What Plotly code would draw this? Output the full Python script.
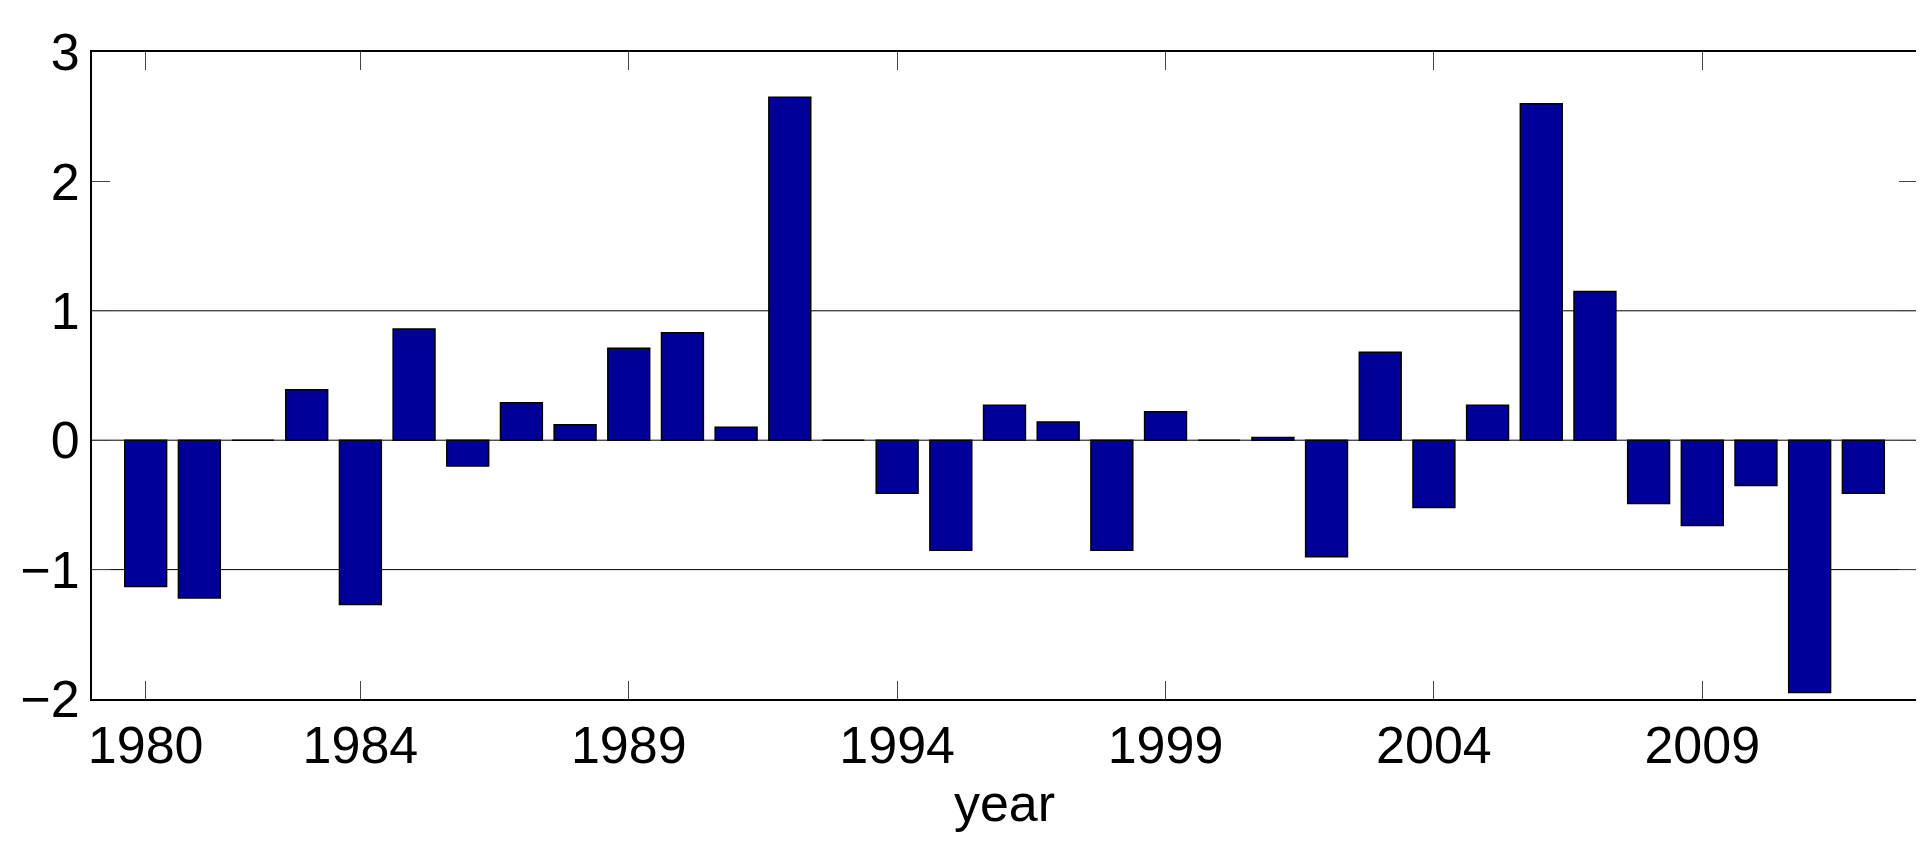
import plotly.graph_objects as go

years = list(range(1980, 2013))
values = [-1.13, -1.22, 0, 0.39, -1.27, 0.86, -0.2, 0.29, 0.12, 0.71, 0.83, 0.1, 2.65, 0,
          -0.41, -0.85, 0.27, 0.14, -0.85, 0.22, 0, 0.02, -0.9, 0.68, -0.52, 0.27, 2.6,
          1.15, -0.49, -0.66, -0.35, -1.95, -0.41]
xticks = [1980, 1984, 1989, 1994, 1999, 2004, 2009]
yticks = [-2, -1, 0, 1, 2, 3]
grid_y = [-1, 0, 1]

fig = go.Figure(go.Bar(x=years, y=values, width=0.78,
                       marker=dict(color="#000099", line=dict(color="black", width=1.5))))
for g in grid_y:
    fig.add_hline(y=g, line=dict(color="black", width=1), layer="below")
font = dict(family="Liberation Sans, Arial", size=52, color="black")
fig.update_layout(
    width=1924, height=856, margin=dict(l=81, r=15, t=44, b=165),
    paper_bgcolor="white", plot_bgcolor="white", showlegend=False, font=font,
    xaxis=dict(range=[1979, 2013], tickvals=xticks, ticks="inside", ticklen=18,
               showline=True, linecolor="black", linewidth=2, mirror="ticks",
               showgrid=False, zeroline=False,
               title=dict(text="year", font=font, standoff=8)),
    yaxis=dict(range=[-2, 3], tickvals=yticks, ticks="inside", ticklen=18,
               showline=True, linecolor="black", linewidth=2, mirror="ticks",
               showgrid=False, zeroline=False),
)
fig.write_html("out.html")
